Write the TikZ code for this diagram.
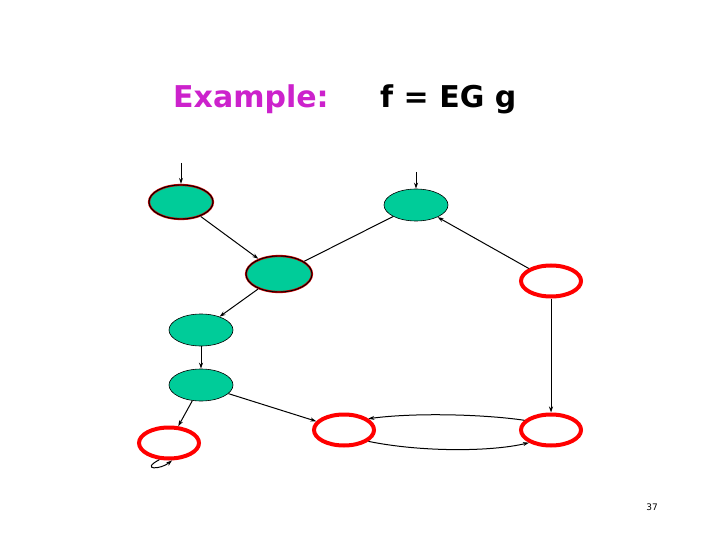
\documentclass[tikz,border=0pt]{standalone}
\usepackage{fontspec}
\setmainfont{DejaVu Sans}
\usetikzlibrary{arrows.meta,shapes.geometric}
\definecolor{teal1}{RGB}{0,204,153}
\definecolor{mag}{RGB}{204,34,204}
\begin{document}
\begin{tikzpicture}[x=1pt,y=-1pt,
  gst/.style={ellipse,draw=black,fill=teal1,minimum width=64pt,minimum height=32pt,inner sep=0pt,line width=0.6pt},
  gred/.style={ellipse,draw=red!80!black,fill=teal1,minimum width=64pt,minimum height=34pt,inner sep=0pt,line width=2.2pt,
     postaction={draw=black,line width=0.9pt}},
  rst/.style={ellipse,draw=red,fill=white,minimum width=60pt,minimum height=31pt,inner sep=0pt,line width=4pt},
  ar/.style={-{Stealth[length=6pt,width=4pt]},line width=1pt}]
\useasboundingbox (0,0) rectangle (720,540);
\node[anchor=base west,font=\bfseries\fontsize{30}{30}\selectfont,text=mag,inner sep=0pt] (t1) at (173,108) {Example:};
\node[anchor=base west,font=\bfseries\fontsize{30}{30}\selectfont,inner sep=0pt] (t2) at (380,108) {f = EG g};
\node[gred] (A) at (181,202) {};
\node[gred,minimum width=66pt,minimum height=36pt] (B) at (279,274) {};
\node[gst] (C) at (416,205) {};
\node[rst] (D) at (551,281) {};
\node[gst] (E) at (201,330) {};
\node[gst] (F) at (201,385) {};
\node[rst] (G) at (169,443) {};
\node[rst] (H) at (344,430) {};
\node[rst] (I) at (551,430) {};
\coordinate (ia) at (181,163);
\coordinate (ic) at (416,172);
\draw[ar] (ia) -- (A);
\draw[ar] (ic) -- (C);
\draw[ar] (A) -- (B);
\draw[line width=1pt] (B) -- (C);
\draw[ar] (D) -- (C);
\draw[ar] (B) -- (E);
\draw[ar] (E) -- (F);
\draw[ar] (F) -- (G);
\draw[ar] (F) -- (H);
\draw[ar] (D) -- (I);
\draw[ar] (I.160) .. controls (490,415) and (420,412) .. (H.25);
\draw[ar] (H.-25) .. controls (420,452) and (490,452) .. (I.-150);
\draw[ar] (G.-120) .. controls (140,470) and (160,470) .. (G.-80);
\node[font=\fontsize{9}{9}\selectfont,anchor=base] (n) at (652,510) {37};
\end{tikzpicture}
\end{document}
